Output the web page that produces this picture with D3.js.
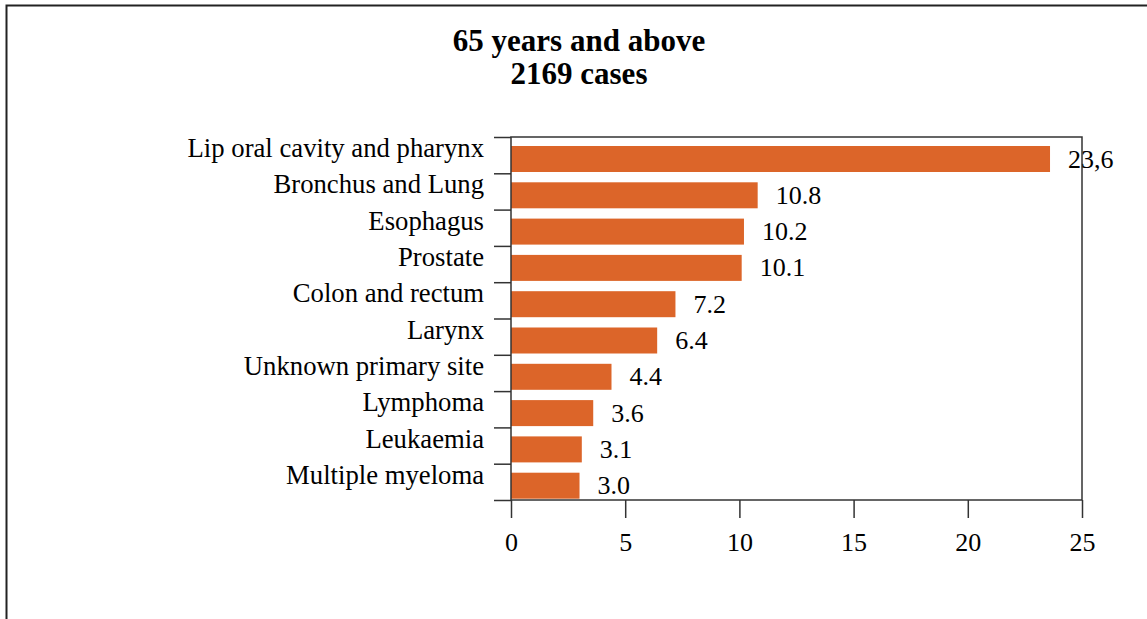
<!DOCTYPE html>
<html>
<head>
<meta charset="utf-8">
<script src="https://cdn.jsdelivr.net/npm/d3@7"></script>
<style>
  body { margin: 0; background: #fff; }
  text { font-family: "Liberation Serif", "Times New Roman", serif; fill: #000; }
</style>
</head>
<body>
<div id="chart"></div>
<script>
// chart data, top to bottom
var categories = ['Lip oral cavity and pharynx', 'Bronchus and Lung', 'Esophagus',
    'Prostate', 'Colon and rectum', 'Larynx', 'Unknown primary site',
    'Lymphoma', 'Leukaemia', 'Multiple myeloma'];
var values = [23.6, 10.8, 10.2, 10.1, 7.2, 6.4, 4.4, 3.6, 3.1, 3.0];
var valueLabels = ['23,6', '10.8', '10.2', '10.1', '7.2', '6.4', '4.4', '3.6', '3.1', '3.0'];
var xTicks = [0, 5, 10, 15, 20, 25];
var titleLines = ['65 years and above', '2169 cases'];

var W = 1147, H = 619;
var plot = { left: 511, right: 1082, top: 137, bottom: 500 };
var barColor = '#dc6529';
var lineColor = '#333';

var svg = d3.select('#chart').append('svg')
    .attr('width', W)
    .attr('height', H);

// outer border (only left and top are visible in frame)
svg.append('rect')
    .attr('x', 6.5).attr('y', 5.5)
    .attr('width', 1300).attr('height', 800)
    .attr('fill', 'none')
    .attr('stroke', '#222')
    .attr('stroke-width', 2);

// title
svg.append('g').selectAll('text')
    .data(titleLines)
    .enter().append('text')
    .attr('x', 579)
    .attr('y', function (d, i) { return 51 + i * 33; })
    .attr('text-anchor', 'middle')
    .style('font-weight', 'bold')
    .style('font-size', '31px')
    .text(function (d) { return d; });

// scales
var xScale = d3.scaleLinear()
    .domain([0, 25])
    .range([plot.left, plot.right]);

var yScale = d3.scaleBand()
    .domain(categories)
    .range([plot.top, plot.bottom]);

// band edges for the y tick marks
var yEdge = d3.scaleLinear()
    .domain([0, categories.length])
    .range([plot.top, plot.bottom]);

// bars
svg.append('g').selectAll('.bar')
    .data(values)
    .enter().append('rect')
    .attr('class', 'bar')
    .attr('x', xScale(0))
    .attr('y', function (d, i) { return yScale(categories[i]) + 9; })
    .attr('width', function (d) { return xScale(d) - xScale(0); })
    .attr('height', 26)
    .attr('fill', barColor);

// plot frame
svg.append('rect')
    .attr('x', plot.left).attr('y', plot.top)
    .attr('width', plot.right - plot.left)
    .attr('height', plot.bottom - plot.top)
    .attr('fill', 'none')
    .attr('stroke', lineColor)
    .attr('stroke-width', 1.5);

// y tick marks at band edges
var yAxis = d3.axisLeft(yEdge)
    .tickValues(d3.range(categories.length + 1))
    .tickSize(17)
    .tickFormat('');

var gy = svg.append('g')
    .attr('transform', 'translate(' + plot.left + ',0)')
    .call(yAxis);
gy.select('.domain').remove();
gy.selectAll('.tick line').attr('stroke', lineColor).attr('stroke-width', 1.5);

// category labels
svg.append('g').selectAll('text')
    .data(categories)
    .enter().append('text')
    .attr('x', 484)
    .attr('y', function (d) { return yScale(d) + yScale.bandwidth() / 2 + 2; })
    .attr('text-anchor', 'end')
    .style('font-size', '26.7px')
    .text(function (d) { return d; });

// x axis
var xAxis = d3.axisBottom(xScale)
    .tickValues(xTicks)
    .tickSize(18)
    .tickSizeOuter(0);

var gx = svg.append('g')
    .attr('transform', 'translate(0,' + plot.bottom + ')')
    .call(xAxis);
gx.select('.domain').remove();
gx.selectAll('.tick line').attr('stroke', lineColor).attr('stroke-width', 1.5);
gx.selectAll('.tick text')
    .attr('dy', null)
    .attr('y', 51)
    .style('font-size', '26px')
    .style('font-family', '"Liberation Serif", "Times New Roman", serif')
    .attr('fill', '#000');

// value labels
svg.append('g').selectAll('.val')
    .data(values)
    .enter().append('text')
    .attr('class', 'val')
    .attr('x', function (d) { return xScale(d) + 18; })
    .attr('y', function (d, i) { return yScale(categories[i]) + 9 + 13 + 8.5; })
    .style('font-size', '26px')
    .text(function (d, i) { return valueLabels[i]; });
</script>
</body>
</html>
